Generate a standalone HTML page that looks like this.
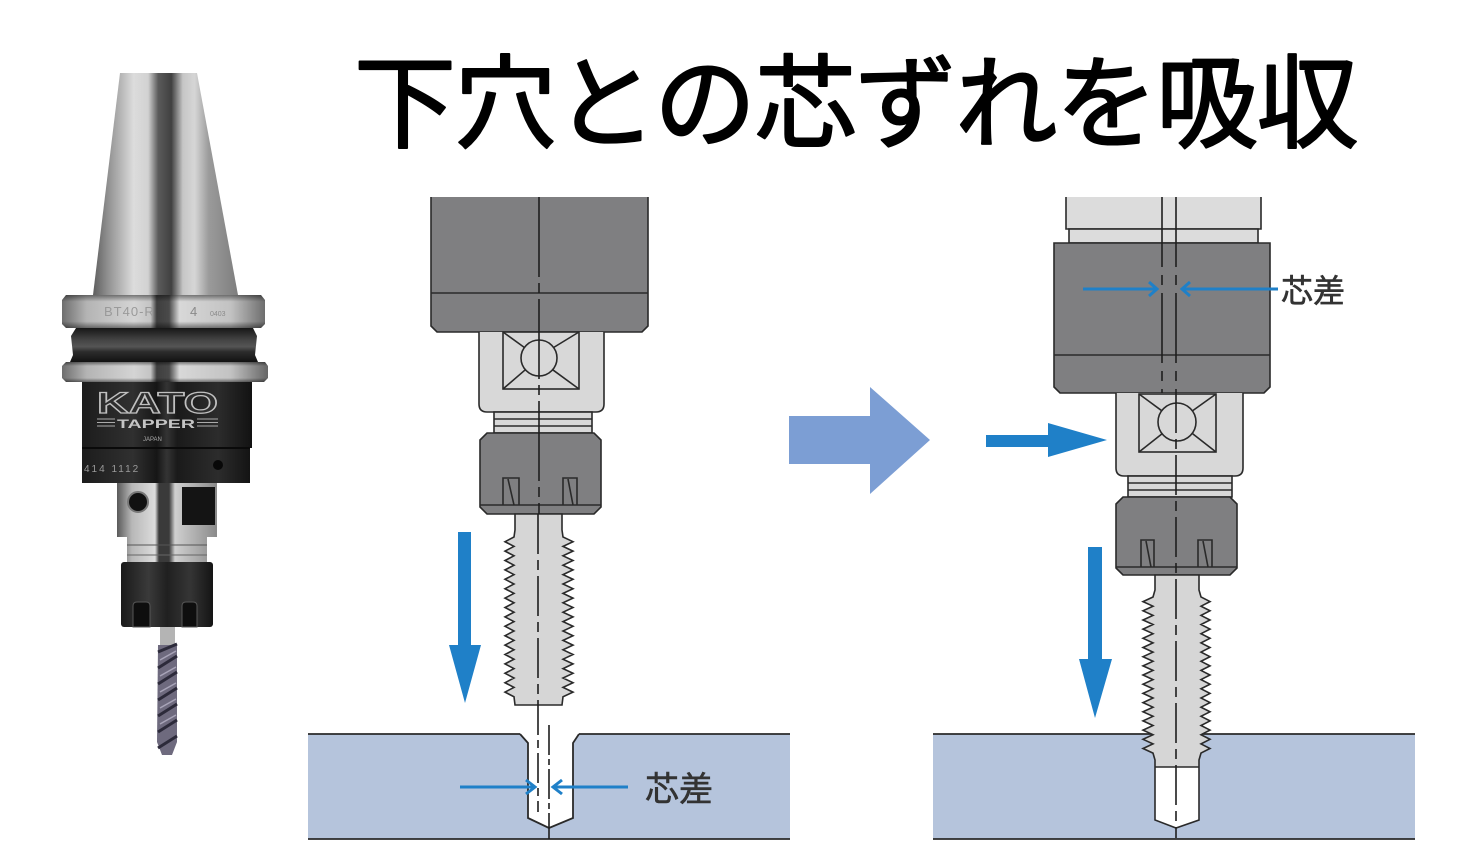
<!DOCTYPE html>
<html><head><meta charset="utf-8">
<style>
html,body{margin:0;padding:0;background:#fff;}
body{width:1468px;height:864px;overflow:hidden;}
svg{display:block;}
</style></head><body>
<svg width="1468" height="864" viewBox="0 0 1468 864" xmlns="http://www.w3.org/2000/svg">
<defs>
 <linearGradient id="cone" gradientUnits="userSpaceOnUse" x1="93" y1="0" x2="238" y2="0">
  <stop offset="0" stop-color="#5e5e5e"/>
  <stop offset="0.1" stop-color="#8f8f8f"/>
  <stop offset="0.28" stop-color="#dcdcdc"/>
  <stop offset="0.38" stop-color="#d2d2d2"/>
  <stop offset="0.45" stop-color="#5a5a5a"/>
  <stop offset="0.54" stop-color="#404040"/>
  <stop offset="0.62" stop-color="#c6c6c6"/>
  <stop offset="0.7" stop-color="#d6d6d6"/>
  <stop offset="0.8" stop-color="#9a9a9a"/>
  <stop offset="1" stop-color="#7e7e7e"/>
 </linearGradient>
 <linearGradient id="ring" gradientUnits="userSpaceOnUse" x1="62" y1="0" x2="268" y2="0">
  <stop offset="0" stop-color="#6e6e6e"/>
  <stop offset="0.12" stop-color="#b4b4b4"/>
  <stop offset="0.35" stop-color="#d4d4d4"/>
  <stop offset="0.43" stop-color="#c4c4c4"/>
  <stop offset="0.46" stop-color="#3e3e3e"/>
  <stop offset="0.52" stop-color="#4a4a4a"/>
  <stop offset="0.57" stop-color="#d8d8d8"/>
  <stop offset="0.82" stop-color="#c2c2c2"/>
  <stop offset="1" stop-color="#666"/>
 </linearGradient>
 <linearGradient id="ringV" x1="0" y1="0" x2="0" y2="1">
  <stop offset="0" stop-color="#000" stop-opacity="0.45"/>
  <stop offset="0.2" stop-color="#000" stop-opacity="0"/>
  <stop offset="0.8" stop-color="#000" stop-opacity="0"/>
  <stop offset="1" stop-color="#000" stop-opacity="0.45"/>
 </linearGradient>
 <linearGradient id="groove" x1="0" y1="0" x2="0" y2="1">
  <stop offset="0" stop-color="#161616"/>
  <stop offset="0.35" stop-color="#444"/>
  <stop offset="0.55" stop-color="#555"/>
  <stop offset="0.7" stop-color="#2c2c2c"/>
  <stop offset="1" stop-color="#121212"/>
 </linearGradient>
 <linearGradient id="body" gradientUnits="userSpaceOnUse" x1="82" y1="0" x2="252" y2="0">
  <stop offset="0" stop-color="#1c1c1c"/>
  <stop offset="0.3" stop-color="#303030"/>
  <stop offset="0.44" stop-color="#161616"/>
  <stop offset="0.5" stop-color="#343434"/>
  <stop offset="0.56" stop-color="#1a1a1a"/>
  <stop offset="0.8" stop-color="#2c2c2c"/>
  <stop offset="1" stop-color="#121212"/>
 </linearGradient>
 <linearGradient id="silver" gradientUnits="userSpaceOnUse" x1="117" y1="0" x2="217" y2="0">
  <stop offset="0" stop-color="#5a5a5a"/>
  <stop offset="0.15" stop-color="#b8b8b8"/>
  <stop offset="0.38" stop-color="#dcdcdc"/>
  <stop offset="0.42" stop-color="#3a3a3a"/>
  <stop offset="0.52" stop-color="#3a3a3a"/>
  <stop offset="0.58" stop-color="#d0d0d0"/>
  <stop offset="1" stop-color="#8a8a8a"/>
 </linearGradient>
 <linearGradient id="nut" gradientUnits="userSpaceOnUse" x1="121" y1="0" x2="213" y2="0">
  <stop offset="0" stop-color="#1a1a1a"/>
  <stop offset="0.3" stop-color="#3a3a3a"/>
  <stop offset="0.5" stop-color="#202020"/>
  <stop offset="0.75" stop-color="#353535"/>
  <stop offset="1" stop-color="#141414"/>
 </linearGradient>
 <linearGradient id="tapR" gradientUnits="userSpaceOnUse" x1="0" y1="575" x2="0" y2="828">
  <stop offset="0" stop-color="#d6d6d6"/>
  <stop offset="0.759" stop-color="#d6d6d6"/>
  <stop offset="0.76" stop-color="#ffffff"/>
  <stop offset="1" stop-color="#ffffff"/>
 </linearGradient>
</defs>

<!-- ===== Title ===== -->
<text x="354" y="140" font-family="'Liberation Sans','Noto Sans CJK JP',sans-serif" font-size="102" letter-spacing="-1.6" fill="#000" stroke="#000" stroke-width="2" stroke-linejoin="round">下穴との芯ずれを吸収</text>

<!-- ===== Photo: tap holder ===== -->
<polygon points="120,73 197,73 238,295 93,295" fill="url(#cone)"/>
<path d="M66,295 L261,295 L265,300 L265,324 L261,328 L66,328 L62,324 L62,300 Z" fill="url(#ring)"/>
<path d="M66,295 L261,295 L265,300 L265,324 L261,328 L66,328 L62,324 L62,300 Z" fill="url(#ringV)"/>
<text x="104" y="316" font-family="'Liberation Sans',sans-serif" font-size="13" fill="#9a9a9a" letter-spacing="1">BT40-R</text>
<text x="190" y="316" font-family="'Liberation Sans',sans-serif" font-size="13" fill="#8a8a8a">4</text>
<text x="210" y="316" font-family="'Liberation Sans',sans-serif" font-size="7" fill="#8a8a8a">0403</text>
<path d="M76,328 L253,328 L257,336 L255,355 L258,362 L70,362 L73,355 L71,336 Z" fill="url(#groove)"/>
<path d="M66,362 L265,362 L268,366 L268,378 L264,382 L66,382 L62,378 L62,366 Z" fill="url(#ring)"/>
<path d="M66,362 L265,362 L268,366 L268,378 L264,382 L66,382 L62,378 L62,366 Z" fill="url(#ringV)"/>
<rect x="82" y="382" width="170" height="66" fill="url(#body)"/>
<rect x="82" y="448" width="168" height="35" fill="url(#body)"/>
<line x1="82" y1="448" x2="250" y2="448" stroke="#0a0a0a" stroke-width="2"/>
<text x="97" y="413" font-family="'Liberation Sans',sans-serif" font-weight="bold" font-size="30" textLength="121" lengthAdjust="spacingAndGlyphs" fill="#2e2e2e" stroke="#c0c0c0" stroke-width="1.2">KATO</text>
<text x="117" y="428" font-family="'Liberation Sans',sans-serif" font-weight="bold" font-size="12" textLength="78" lengthAdjust="spacingAndGlyphs" fill="#c4c4c4">TAPPER</text>
<g stroke="#aaa" stroke-width="1">
 <line x1="97" y1="419" x2="115" y2="419"/><line x1="97" y1="422.5" x2="115" y2="422.5"/><line x1="97" y1="426" x2="115" y2="426"/>
 <line x1="197" y1="419" x2="218" y2="419"/><line x1="197" y1="422.5" x2="218" y2="422.5"/><line x1="197" y1="426" x2="218" y2="426"/>
</g>
<text x="143" y="441" font-family="'Liberation Sans',sans-serif" font-size="6" fill="#aaa">JAPAN</text>
<text x="84" y="472" font-family="'Liberation Sans',sans-serif" font-size="10" fill="#9a9a9a" letter-spacing="2">414  1112</text>
<circle cx="218" cy="465" r="5" fill="#080808"/>
<rect x="117" y="483" width="100" height="54" fill="url(#silver)"/>
<rect x="182" y="487" width="33" height="38" fill="#141414"/>
<circle cx="138" cy="502" r="10" fill="#111" stroke="#777" stroke-width="2"/>
<rect x="127" y="537" width="80" height="25" fill="url(#silver)"/>
<line x1="127" y1="545" x2="207" y2="545" stroke="#555" stroke-width="1"/>
<line x1="127" y1="555" x2="207" y2="555" stroke="#666" stroke-width="1"/>
<rect x="121" y="562" width="92" height="65" rx="3" fill="url(#nut)"/>
<path d="M133,627 L133,606 Q133,602 137,602 L146,602 Q150,602 150,606 L150,627 Z" fill="#0e0e0e" stroke="#555" stroke-width="1"/>
<path d="M182,627 L182,606 Q182,602 186,602 L193,602 Q197,602 197,606 L197,627 Z" fill="#0e0e0e" stroke="#555" stroke-width="1"/>
<rect x="160" y="627" width="15" height="18" fill="#b4b4b4"/>
<path d="M158,645 L177,645 L177,742 L172,755 L162,755 L157,742 Z" fill="#6e6a7e"/>
<g stroke="#2c2a3a" stroke-width="3" fill="none">
 <path d="M158,652 L177,644"/><path d="M158,668 L177,656"/><path d="M158,684 L177,672"/>
 <path d="M158,700 L177,688"/><path d="M158,716 L177,704"/><path d="M158,732 L177,720"/><path d="M158,748 L177,736"/>
</g>
<g stroke="#a8a4b8" stroke-width="1.5" fill="none">
 <path d="M160,660 L176,651"/><path d="M160,676 L176,667"/><path d="M160,692 L176,683"/><path d="M160,708 L176,699"/><path d="M160,724 L176,715"/>
</g>

<!-- ===== Big arrow ===== -->
<polygon points="789,416 870,416 870,387 930,440 870,494 870,464 789,464" fill="#7c9ed4"/>
<polygon points="986,435 1048,435 1048,423 1107,440 1048,457 1048,447 986,447" fill="#1f80c8"/>

<!-- ===== Middle diagram ===== -->
<rect x="308" y="734" width="482" height="105" fill="#b5c4dc"/>
<g stroke="#2a2a2a" stroke-width="1.8" fill="none">
 <line x1="308" y1="734" x2="520" y2="734"/>
 <line x1="579" y1="734" x2="790" y2="734"/>
 <line x1="308" y1="839" x2="790" y2="839"/>
 <polygon points="520,734 528,743 528,818 549,828 573,818 573,743 579,734" fill="#fff" stroke="none"/>
 <polyline points="520,734 528,743 528,818 549,828 573,818 573,743 579,734"/>
</g>
<g stroke="#2a2a2a" stroke-width="1.6" fill="none">
 <path d="M431,197 L431,326 L437,332 L642,332 L648,326 L648,197" fill="#7f7f81"/>
 <line x1="431" y1="293" x2="648" y2="293"/>
 <path d="M479,332 L479,404 Q479,412 487,412 L596,412 Q604,412 604,404 L604,332" fill="#d8d8d8"/>
 <rect x="503" y="332" width="76" height="57"/>
 <circle cx="539" cy="358" r="18"/>
 <line x1="503" y1="332" x2="524.4" y2="347.5"/>
 <line x1="579" y1="332" x2="553.6" y2="347.5"/>
 <line x1="503" y1="389" x2="525.4" y2="369.7"/>
 <line x1="579" y1="389" x2="552.6" y2="369.7"/>
 <rect x="494" y="412" width="98" height="21" fill="#d8d8d8"/>
 <line x1="494" y1="419" x2="592" y2="419"/>
 <line x1="494" y1="426" x2="592" y2="426"/>
 <path d="M480,440 L487,433 L594,433 L601,440 L601,507 L594,514 L487,514 L480,507 Z" fill="#7f7f81"/>
 <line x1="480" y1="505" x2="601" y2="505"/>
 <path d="M503,505 L503,478 L519,478 L519,505"/>
 <path d="M508,479 L514,505"/>
 <path d="M563,505 L563,478 L577,478 L577,505"/>
 <path d="M568,479 L573,505"/>
 <path fill="#d6d6d6" d="M515,514 L515,530 L514,537 L505,541.7 L514,546.4 L505,551.1 L514,555.8 L505,560.5 L514,565.2 L505,569.9 L514,574.6 L505,579.3 L514,584 L505,588.7 L514,593.4 L505,598.1 L514,602.8 L505,607.5 L514,612.2 L505,616.9 L514,621.6 L505,626.3 L514,631 L505,635.7 L514,640.4 L505,645.1 L514,649.8 L505,654.5 L514,659.2 L505,663.9 L514,668.6 L505,673.3 L514,678 L505,682.7 L514,687.4 L505,692.1 L514,696.8 L515,705 L562,705 L563,696.8 L573,692.1 L563,687.4 L573,682.7 L563,678 L573,673.3 L563,668.6 L573,663.9 L563,659.2 L573,654.5 L563,649.8 L573,645.1 L563,640.4 L573,635.7 L563,631 L573,626.3 L563,621.6 L573,616.9 L563,612.2 L573,607.5 L563,602.8 L573,598.1 L563,593.4 L573,588.7 L563,584 L573,579.3 L563,574.6 L573,569.9 L563,565.2 L573,560.5 L563,555.8 L573,551.1 L563,546.4 L573,541.7 L563,537 L562,530 L562,514 Z"/>
</g>
<g stroke="#1e1e1e" stroke-width="1.6" fill="none">
 <line x1="539" y1="197" x2="539" y2="514" stroke-dasharray="80,6,10,6"/>
 <line x1="538" y1="514" x2="538" y2="705" stroke-dasharray="40,6,10,6"/>
 <line x1="538" y1="705" x2="538" y2="812" stroke-dasharray="30,5,8,5"/>
 <line x1="549" y1="725" x2="549" y2="839" stroke-dasharray="30,4,6,4"/>
</g>
<g stroke="#1f80c8" stroke-width="3" fill="none">
 <line x1="460" y1="787" x2="533" y2="787"/>
 <polyline points="526,780 535,787 526,794"/>
 <line x1="628" y1="787" x2="555" y2="787"/>
 <polyline points="562,780 553,787 562,794"/>
</g>
<text x="645" y="801" font-family="'Liberation Sans','Noto Sans CJK JP',sans-serif" font-size="34" fill="#333" stroke="#333" stroke-width="0.6">芯差</text>
<polygon points="458,532 471,532 471,645 481,645 465,703 449,645 458,645" fill="#1f80c8"/>

<!-- ===== Right diagram ===== -->
<rect x="933" y="734" width="482" height="105" fill="#b5c4dc"/>
<g stroke="#2a2a2a" stroke-width="1.8">
 <line x1="933" y1="734" x2="1415" y2="734"/>
 <line x1="933" y1="839" x2="1415" y2="839"/>
</g>
<g stroke="#2a2a2a" stroke-width="1.6" fill="none">
 <path d="M1066,197 L1066,229 L1261,229 L1261,197" fill="#dcdcdc"/>
 <rect x="1069" y="229" width="189" height="14" fill="#dcdcdc"/>
 <path d="M1054,243 L1054,387 L1060,393 L1264,393 L1270,387 L1270,243 Z" fill="#7f7f81"/>
 <line x1="1054" y1="355" x2="1270" y2="355"/>
 <path d="M1116,393 L1116,468 Q1116,476 1124,476 L1235,476 Q1243,476 1243,468 L1243,393" fill="#d8d8d8"/>
 <rect x="1139" y="394" width="77" height="58"/>
 <circle cx="1177" cy="422" r="19"/>
 <line x1="1139" y1="394" x2="1161.7" y2="410.7"/>
 <line x1="1216" y1="394" x2="1192.4" y2="410.9"/>
 <line x1="1139" y1="452" x2="1162.1" y2="433.8"/>
 <line x1="1216" y1="452" x2="1192.5" y2="433.6"/>
 <rect x="1128" y="476" width="104" height="21" fill="#d8d8d8"/>
 <line x1="1128" y1="483" x2="1232" y2="483"/>
 <line x1="1128" y1="490" x2="1232" y2="490"/>
 <path d="M1116,504 L1123,497 L1230,497 L1237,504 L1237,568 L1230,575 L1123,575 L1116,568 Z" fill="#7f7f81"/>
 <line x1="1116" y1="567" x2="1237" y2="567"/>
 <path d="M1141,567 L1141,540 L1154,540 L1154,567"/>
 <path d="M1146,541 L1151,567"/>
 <path d="M1198,567 L1198,540 L1212,540 L1212,567"/>
 <path d="M1203,541 L1208,567"/>
 <path fill="url(#tapR)" d="M1155,575 L1155,590 L1153,597 L1143,601.6 L1153,606.2 L1143,610.8 L1153,615.4 L1143,620 L1153,624.5 L1143,629.1 L1153,633.7 L1143,638.3 L1153,642.9 L1143,647.5 L1153,652.1 L1143,656.7 L1153,661.3 L1143,665.9 L1153,670.4 L1143,675 L1153,679.6 L1143,684.2 L1153,688.8 L1143,693.4 L1153,698 L1143,702.6 L1153,707.2 L1143,711.8 L1153,716.3 L1143,720.9 L1153,725.5 L1143,730.1 L1153,734.7 L1143,739.3 L1153,743.9 L1143,748.5 L1153,753.1 L1155,760 L1155,820 L1176,828 L1199,820 L1199,760 L1201,753.1 L1210,748.5 L1201,743.9 L1210,739.3 L1201,734.7 L1210,730.1 L1201,725.5 L1210,720.9 L1201,716.3 L1210,711.8 L1201,707.2 L1210,702.6 L1201,698 L1210,693.4 L1201,688.8 L1210,684.2 L1201,679.6 L1210,675 L1201,670.4 L1210,665.9 L1201,661.3 L1210,656.7 L1201,652.1 L1210,647.5 L1201,642.9 L1210,638.3 L1201,633.7 L1210,629.1 L1201,624.5 L1210,620 L1201,615.4 L1210,610.8 L1201,606.2 L1210,601.6 L1201,597 L1199,590 L1199,575 Z"/>
 <line x1="1155" y1="767" x2="1199" y2="767"/>
</g>
<g stroke="#1e1e1e" stroke-width="1.6" fill="none">
 <line x1="1162" y1="197" x2="1162" y2="393" stroke-dasharray="70,8,10,8"/>
 <line x1="1176" y1="197" x2="1176" y2="393" stroke-dasharray="70,8,10,8"/>
 <line x1="1176" y1="393" x2="1176" y2="838" stroke-dasharray="40,6,10,6"/>
</g>
<g stroke="#1f80c8" stroke-width="3" fill="none">
 <line x1="1083" y1="289" x2="1155" y2="289"/>
 <polyline points="1149,282 1157,289 1149,296"/>
 <line x1="1278" y1="289" x2="1184" y2="289"/>
 <polyline points="1190,282 1182,289 1190,296"/>
</g>
<text x="1281" y="302" font-family="'Liberation Sans','Noto Sans CJK JP',sans-serif" font-size="32" fill="#333" stroke="#333" stroke-width="0.6">芯差</text>
<polygon points="1088,547 1102,547 1102,659 1112,659 1095,718 1079,659 1088,659" fill="#1f80c8"/>
</svg>
</body></html>
